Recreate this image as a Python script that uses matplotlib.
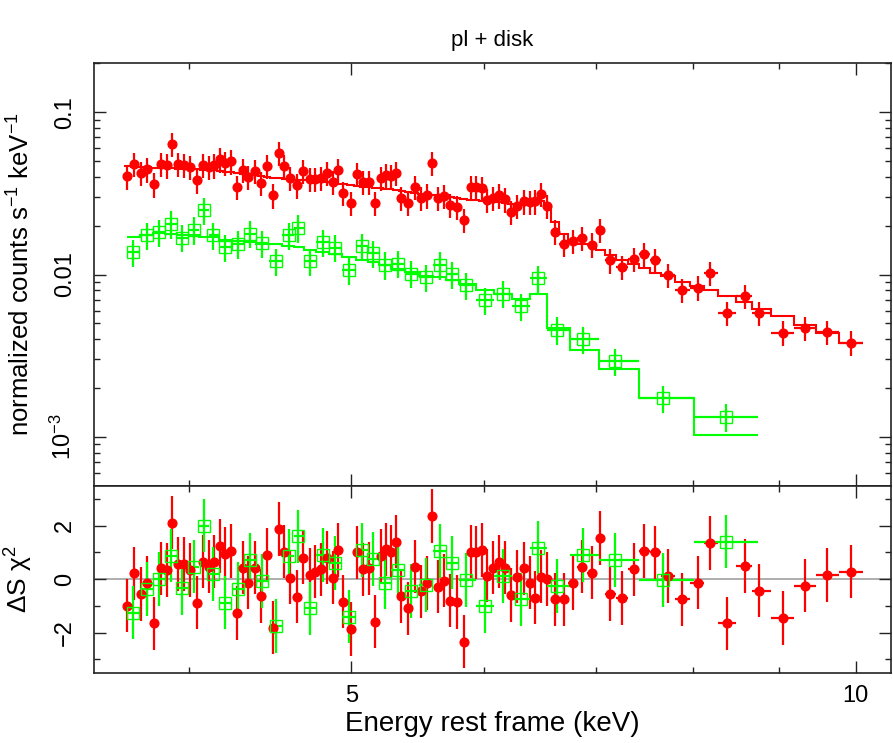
import numpy as np
import matplotlib
matplotlib.use("Agg")
import matplotlib.pyplot as plt
from matplotlib.ticker import FixedLocator, FixedFormatter, NullFormatter, LogLocator

plt.rcParams['font.family'] = ['Liberation Sans', 'DejaVu Sans']
plt.rcParams['mathtext.fontset'] = 'custom'
plt.rcParams['mathtext.rm'] = 'Liberation Sans'
plt.rcParams['mathtext.it'] = 'Liberation Sans:italic'
plt.rcParams['mathtext.default'] = 'regular'

# ---- spectrum 1 (red, filled circles) ----
red_energy = [3.675, 3.708, 3.743, 3.777, 3.812, 3.849, 3.879, 3.909, 3.940, 3.972,
              4.005, 4.042, 4.079, 4.109, 4.141, 4.173, 4.204, 4.235, 4.270, 4.306,
              4.339, 4.377, 4.417, 4.454, 4.490, 4.527, 4.557, 4.594, 4.637, 4.679,
              4.722, 4.759, 4.794, 4.832, 4.872, 4.909, 4.943, 4.996, 5.042, 5.081,
              5.121, 5.163, 5.206, 5.242, 5.278, 5.314, 5.356, 5.405, 5.455, 5.500,
              5.548, 5.589, 5.632, 5.679, 5.729, 5.779, 5.837, 5.891, 5.937, 5.983,
              6.027, 6.074, 6.122, 6.172, 6.223, 6.281, 6.335, 6.388, 6.440, 6.491,
              6.541, 6.611, 6.696, 6.779, 6.867, 6.958, 7.042, 7.139, 7.255, 7.371,
              7.481, 7.591, 7.724, 7.878, 8.048, 8.190, 8.375, 8.589, 8.760, 9.045,
              9.327, 9.613, 9.936]
red_counts = [0.0402, 0.0477, 0.0421, 0.0444, 0.0359, 0.0477, 0.0470, 0.0639, 0.0482, 0.0475,
              0.0459, 0.0380, 0.0475, 0.0459, 0.0470, 0.0512, 0.0488, 0.0497, 0.0345, 0.0442,
              0.0398, 0.0433, 0.0368, 0.0468, 0.0307, 0.0559, 0.0463, 0.0395, 0.0354, 0.0432,
              0.0389, 0.0389, 0.0395, 0.0421, 0.0371, 0.0442, 0.0317, 0.0275, 0.0418, 0.0371,
              0.0371, 0.0275, 0.0395, 0.0408, 0.0402, 0.0421, 0.0297, 0.0275, 0.0345, 0.0296,
              0.0307, 0.0488, 0.0297, 0.0304, 0.0267, 0.0260, 0.0216, 0.0345, 0.0345, 0.0342,
              0.0289, 0.0296, 0.0307, 0.0290, 0.0242, 0.0263, 0.0282, 0.0279, 0.0282, 0.0312,
              0.0264, 0.0184, 0.0155, 0.0161, 0.0168, 0.0153, 0.0189, 0.0122, 0.0111, 0.0125,
              0.0134, 0.0122, 0.00999, 0.00807, 0.00831, 0.0102, 0.00580, 0.00734, 0.00580, 0.00439,
              0.00471, 0.00443, 0.00381]
red_model = [0.04634, 0.04613, 0.04588, 0.04568, 0.04549, 0.04536, 0.04523, 0.04504, 0.04491, 0.04479,
             0.04466, 0.04441, 0.04421, 0.04403, 0.04378, 0.04334, 0.04298, 0.04256, 0.04212, 0.04176,
             0.04137, 0.04078, 0.04020, 0.03981, 0.03947, 0.03908, 0.03892, 0.03870, 0.03837, 0.03815,
             0.03800, 0.03772, 0.03746, 0.03719, 0.03676, 0.03625, 0.03589, 0.03538, 0.03503, 0.03473,
             0.03439, 0.03414, 0.03391, 0.03376, 0.03343, 0.03296, 0.03251, 0.03205, 0.03160, 0.03138,
             0.03094, 0.03072, 0.03042, 0.03016, 0.02999, 0.02965, 0.02923, 0.02890, 0.02861, 0.02841,
             0.02833, 0.02809, 0.02781, 0.02754, 0.02723, 0.02685, 0.02742, 0.02841, 0.02861, 0.02821,
             0.02667, 0.02096, 0.01768, 0.01556, 0.01549, 0.01549, 0.01409, 0.01313, 0.01223, 0.01167,
             0.01103, 0.01027, 0.00975, 0.00899, 0.00846, 0.00799, 0.00734, 0.00677, 0.00617, 0.00553,
             0.00487, 0.00437, 0.00376]
red_resid = [-0.99, 0.22, -0.56, -0.15, -1.65, 0.41, 0.35, 2.12, 0.57, 0.57,
             0.35, -0.88, 0.66, 0.47, 0.66, 1.25, 0.94, 1.06, -1.27, 0.43,
             -0.13, 0.43, -0.63, 0.91, -1.81, 1.88, 1.03, 0.06, -0.65, 0.81,
             0.16, 0.28, 0.37, 0.81, 0.06, 1.10, -0.84, -1.87, 1.00, 0.37,
             0.41, -1.59, 0.87, 1.12, 1.03, 1.41, -0.63, -1.09, 0.47, -0.46,
             -0.15, 2.37, -0.28, -0.05, -0.80, -0.86, -2.34, 1.03, 1.00, 1.10,
             0.13, 0.43, 0.66, 0.43, -0.59, 0.10, 0.41, -0.13, -0.69, 0.10,
             0.00, -0.75, -0.75, -0.15, 0.47, 0.25, 1.54, -0.56, -0.71, 0.37,
             1.06, 1.00, 0.12, -0.75, -0.13, 1.35, -1.65, 0.50, -0.43, -1.46,
             -0.24, 0.16, 0.28]

# ---- spectrum 2 (green, open squares) ----
green_energy = [3.705, 3.774, 3.839, 3.902, 3.963, 4.027, 4.083, 4.135, 4.202, 4.280,
                4.349, 4.423, 4.507, 4.589, 4.647, 4.722, 4.810, 4.888, 4.984, 5.074,
                5.151, 5.235, 5.331, 5.430, 5.538, 5.645, 5.745, 5.856, 6.011, 6.158,
                6.315, 6.461, 6.632, 6.873, 7.188, 7.671, 8.368]
green_counts = [0.01375, 0.01743, 0.01826, 0.02056, 0.01687, 0.01889, 0.02483, 0.01743, 0.01476, 0.01549,
                0.01786, 0.01562, 0.01206, 0.01743, 0.01943, 0.01206, 0.01578, 0.01464, 0.01061, 0.01491,
                0.01356, 0.01150, 0.01167, 0.01013, 0.00965, 0.01150, 0.01003, 0.00858, 0.00694, 0.00763,
                0.00637, 0.00952, 0.00457, 0.00398, 0.00292, 0.00174, 0.00133]
green_model = [0.01701, 0.01743, 0.01801, 0.01786, 0.01743, 0.01743, 0.01701, 0.01701, 0.01640, 0.01607,
               0.01585, 0.01549, 0.01534, 0.01491, 0.01476, 0.01423, 0.01375, 0.01331, 0.01281, 0.01235,
               0.01194, 0.01139, 0.01087, 0.01031, 0.00975, 0.00961, 0.00921, 0.00879, 0.00807, 0.00763,
               0.00711, 0.00763, 0.00465, 0.00342, 0.00260, 0.00174, 0.00102]
green_resid = [-1.25, -0.36, 0.01, 0.88, -0.34, 0.47, 2.01, 0.19, -0.88, -0.36,
               0.72, -0.06, -1.75, 0.88, 1.60, -1.09, 0.91, 0.60, -1.40, 1.10,
               0.75, -0.13, 0.35, -0.44, -0.21, 1.06, 0.62, -0.03, -1.00, 0.12,
               -0.75, 1.18, -0.25, 0.91, 0.72, -0.03, 1.41]

red_rel_err = 0.17
green_rel_err = 0.19
resid_err = 1.0

RED = '#ff0000'
GREEN = '#00ff00'


def bin_edges(c):
    c = np.asarray(c)
    mid = np.sqrt(c[:-1] * c[1:])
    lo = np.concatenate([[c[0] ** 2 / mid[0]], mid])
    hi = np.concatenate([mid, [c[-1] ** 2 / mid[-1]]])
    return lo, hi


fig = plt.figure(figsize=(8.93, 7.43), dpi=100)
ax1 = fig.add_axes([0.1053, 0.3463, 0.8925, 0.5685])
ax2 = fig.add_axes([0.1053, 0.0946, 0.8925, 0.2517])

for energy, counts, model, resid, rel, col, mk in [
        (red_energy, red_counts, red_model, red_resid, red_rel_err, RED, 'o'),
        (green_energy, green_counts, green_model, green_resid, green_rel_err, GREEN, 's')]:
    e = np.array(energy)
    c = np.array(counts)
    lo, hi = bin_edges(e)
    xerr = [e - lo, hi - e]
    edges = np.concatenate([lo, [hi[-1]]])
    ax1.stairs(model, edges, baseline=None, color=col, lw=1.5, zorder=2)
    if mk == 'o':
        kw = dict(fmt='o', ms=6.3, mfc=col, mec=col)
    else:
        kw = dict(fmt='s', ms=8, mfc='none', mec=col, mew=1.0)
    ax1.errorbar(e, c, yerr=c * rel, xerr=xerr, color=col, elinewidth=1.6,
                 capsize=0, zorder=3, **kw)
    ax2.errorbar(e, resid, yerr=resid_err, xerr=xerr, color=col, elinewidth=1.6,
                 capsize=0, zorder=3, **kw)

ax2.axhline(0, color='#a0a0a0', lw=1.2, zorder=1)

ax1.set_yscale('log')
for ax in (ax1, ax2):
    ax.set_xscale('log')
    ax.set_xlim(3.51, 10.5)
    ax.xaxis.set_major_locator(FixedLocator([5, 10]))
    ax.xaxis.set_major_formatter(FixedFormatter(['5', '10']))
    ax.xaxis.set_minor_locator(FixedLocator([4, 6, 7, 8, 9]))
    ax.xaxis.set_minor_formatter(NullFormatter())
    ax.tick_params(which='both', direction='in', top=True, right=True,
                   width=1.0, color='#222222', labelsize=17)
    ax.tick_params(which='major', length=8.5)
    ax.tick_params(which='minor', length=4.3)
    ax.tick_params(axis='y', labelrotation=90, pad=13)
    ax.tick_params(axis='x', pad=9)
    for s in ax.spines.values():
        s.set_linewidth(1.2)
        s.set_color('#222222')

ax1.set_ylim(5e-4, 0.2)
ax1.yaxis.set_major_locator(FixedLocator([1e-3, 1e-2, 1e-1]))
ax1.yaxis.set_major_formatter(FixedFormatter(['10$^{-3}$', '0.01', '0.1']))
ax1.yaxis.set_minor_locator(LogLocator(base=10, subs=np.arange(2, 10)))
ax1.yaxis.set_minor_formatter(NullFormatter())
ax1.tick_params(axis='x', labelbottom=False)
for lab in ax1.get_yticklabels():
    lab.set_va('center')

ax2.set_ylim(-3.5, 3.5)
ax2.yaxis.set_major_locator(FixedLocator([-2, 0, 2]))
ax2.yaxis.set_major_formatter(FixedFormatter(['\u22122', '0', '2']))
ax2.yaxis.set_minor_locator(FixedLocator([-3, -1, 1, 3]))
for lab in ax2.get_yticklabels():
    lab.set_va('center')

ax1.set_ylabel('normalized counts s$^{-1}$ keV$^{-1}$', fontsize=18.5)
ax1.yaxis.set_label_coords(-0.074, 0.5)
ax2.set_ylabel('\u0394S $\\chi^{2}$', fontsize=19)
ax2.yaxis.set_label_coords(-0.074, 0.5)
ax2.set_xlabel('Energy rest frame (keV)', fontsize=20)
ax2.xaxis.set_label_coords(0.5, -0.205)

fig.text(0.5515, 0.946, 'pl + disk', ha='center', va='center', fontsize=16)

fig.savefig('out.png', dpi=100)
